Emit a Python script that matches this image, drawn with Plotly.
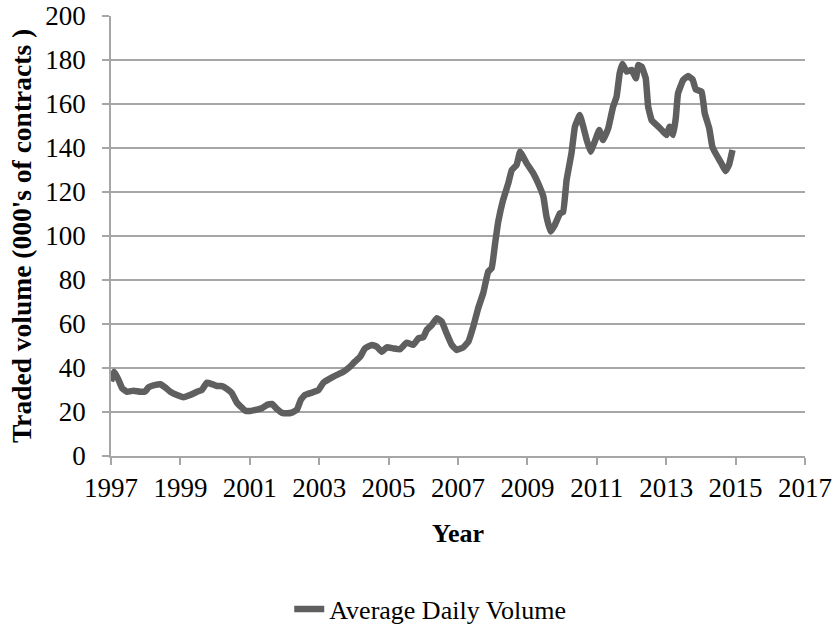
import plotly.graph_objects as go

years = [1997.0, 1997.095, 1997.22, 1997.32, 1997.46, 1997.65, 1997.84, 1997.99, 1998.08, 1998.28,
         1998.42, 1998.56, 1998.71, 1998.90, 1999.09, 1999.28, 1999.48, 1999.62, 1999.76, 1999.91,
         2000.05, 2000.20, 2000.34, 2000.48, 2000.63, 2000.77, 2000.87, 2001.01, 2001.20, 2001.35,
         2001.49, 2001.64, 2001.78, 2001.92, 2002.07, 2002.21, 2002.36, 2002.47, 2002.59, 2002.79,
         2002.98, 2003.12, 2003.41, 2003.70, 2003.89, 2004.03, 2004.18, 2004.32, 2004.52, 2004.66,
         2004.80, 2004.95, 2005.14, 2005.33, 2005.52, 2005.71, 2005.86, 2006.00, 2006.10, 2006.24,
         2006.39, 2006.53, 2006.67, 2006.82, 2006.96, 2007.15, 2007.30, 2007.44, 2007.58, 2007.73,
         2007.87, 2007.97, 2008.07, 2008.16, 2008.30, 2008.45, 2008.55, 2008.69, 2008.79, 2008.98,
         2009.17, 2009.31, 2009.46, 2009.55, 2009.67, 2009.79, 2009.94, 2010.03, 2010.13, 2010.27,
         2010.37, 2010.51, 2010.61, 2010.71, 2010.82, 2010.94, 2011.07, 2011.18, 2011.33, 2011.47,
         2011.57, 2011.66, 2011.74, 2011.86, 2012.00, 2012.13, 2012.19, 2012.29, 2012.41, 2012.48,
         2012.58, 2012.72, 2012.87, 2013.01, 2013.10, 2013.20, 2013.28, 2013.34, 2013.49, 2013.63,
         2013.76, 2013.85, 2014.02, 2014.11, 2014.24, 2014.33, 2014.45, 2014.59, 2014.71, 2014.81,
         2014.91]

volume = [34.0, 38.3, 34.5, 30.8, 29.2, 29.7, 29.2, 29.4, 31.2, 32.3,
          32.6, 31.2, 29.2, 27.7, 26.7, 27.7, 29.2, 30.0, 33.3, 32.7,
          31.8, 31.8, 30.5, 28.6, 24.2, 22.0, 20.6, 20.5, 21.1, 21.7,
          23.2, 23.7, 21.4, 19.7, 19.4, 19.7, 21.1, 25.5, 27.7, 28.8,
          30.0, 33.3, 36.1, 38.3, 40.6, 42.9, 45.1, 48.9, 50.5, 49.7,
          47.4, 49.4, 48.9, 48.5, 51.5, 50.5, 53.5, 54.0, 57.3, 59.5,
          62.6, 61.1, 55.8, 50.5, 48.2, 49.4, 52.0, 58.8, 67.1, 74.2,
          83.8, 85.3, 96.7, 106.5, 116.4, 124.0, 130.0, 132.3, 138.3, 133.0,
          128.5, 124.0, 117.9, 108.8, 102.0, 105.0, 110.3, 111.0, 125.5, 137.6,
          149.7, 155.0, 149.7, 143.6, 138.3, 142.9, 148.2, 143.6, 149.0, 158.8,
          163.3, 174.0, 178.2, 174.7, 175.5, 171.7, 177.7, 177.0, 171.7, 158.8,
          152.7, 150.5, 148.2, 145.9, 149.7, 145.9, 154.2, 164.8, 170.9, 172.7,
          171.2, 166.7, 165.6, 155.8, 149.0, 140.6, 136.8, 133.0, 129.5, 132.3,
          139.1]

series_name = "Average Daily Volume"
x_title = "Year"
y_title = "Traded volume (000's of contracts )"

FONT = "Liberation Serif, Times New Roman, serif"
GRID = "#a6a6a6"

fig = go.Figure()
fig.add_trace(go.Scatter(
    x=years, y=volume, mode="lines", name=series_name,
    line=dict(color="#5f5f5f", width=6.5, shape="spline", smoothing=0.3),
))

fig.update_layout(
    width=833, height=631,
    margin=dict(l=111, r=28, t=16, b=175, autoexpand=False),
    paper_bgcolor="white", plot_bgcolor="white",
    font=dict(family=FONT, size=27, color="black"),
    showlegend=True,
    legend=dict(orientation="h", x=0.46, xanchor="center", y=-0.348, yanchor="middle",
                font=dict(size=26), bgcolor="rgba(0,0,0,0)"),
    xaxis=dict(
        range=[1997, 2017], tickmode="linear", tick0=1997, dtick=2,
        showgrid=False, zeroline=False,
        showline=True, linecolor=GRID, linewidth=1.5,
        ticks="outside", ticklen=7, tickcolor=GRID, tickwidth=1.5,
        tickfont=dict(size=27), ticklabeloverflow="allow",
        title=dict(text="<b>" + x_title + "</b>", font=dict(size=26), standoff=22),
    ),
    yaxis=dict(
        range=[0, 200], tickmode="linear", tick0=0, dtick=20,
        showgrid=True, gridcolor=GRID, gridwidth=1.5, zeroline=False,
        showline=True, linecolor=GRID, linewidth=1.5,
        ticks="outside", ticklen=7, tickcolor=GRID, tickwidth=1.5,
        tickfont=dict(size=27), ticklabeloverflow="allow", ticklabelstandoff=11,
        title=dict(text="<b>" + y_title + "</b>", font=dict(size=27.5), standoff=6),
    ),
)

fig.write_html(
    "out.html",
    config={"displayModeBar": False},
    post_script="document.body.style.margin='0';document.body.style.overflow='hidden';",
)
